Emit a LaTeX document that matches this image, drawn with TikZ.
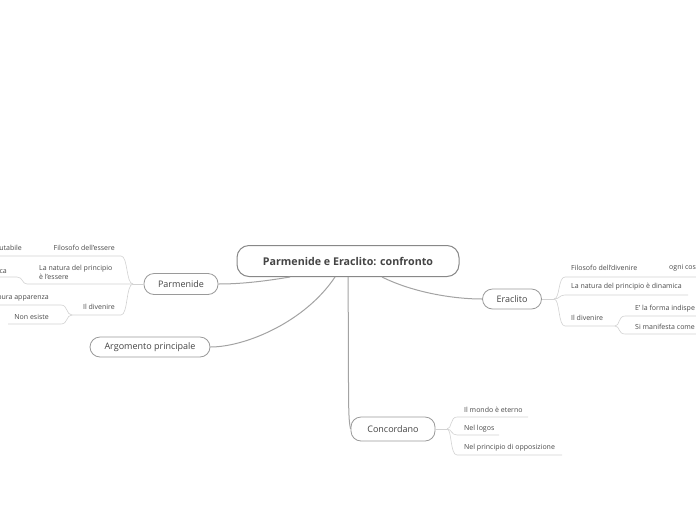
\documentclass[tikz,border=0pt]{standalone}
\usepackage{fontspec}
\setmainfont{Open Sans}
\definecolor{rootline}{HTML}{888888}
\definecolor{boxline}{HTML}{9A9A9A}
\definecolor{branchline}{HTML}{A3A3A3}
\definecolor{twigline}{HTML}{D2D2D2}
\definecolor{boxtext}{HTML}{444444}
\definecolor{leaftext}{HTML}{4A4A4A}
\begin{document}
\begin{tikzpicture}[x=1pt,y=-1pt,
  rootbox/.style={draw=rootline,line width=1pt,rounded corners=12pt,minimum width=222pt,minimum height=31pt,
    font=\fontsize{10.7}{12}\selectfont\bfseries,text=boxtext},
  topic/.style={draw=boxline,line width=0.8pt,rounded corners=10pt,minimum height=21pt,
    font=\fontsize{9}{10}\selectfont,text=boxtext},
  leaf/.style={font=\fontsize{7}{9}\selectfont,text=leaftext,inner sep=0pt},
  branch/.style={draw=branchline,line width=1pt},
  twig/.style={draw=twigline,line width=0.6pt}]
\useasboundingbox[fill=white] (0,0) rectangle (696,520);
% main topics
\node[rootbox] (root) at (348,261) {Parmenide e Eraclito: confronto};
\node[topic,minimum width=74pt] (parm) at (181,284) {Parmenide};
\node[topic,minimum width=120pt,minimum height=20pt] (arg) at (150,347) {Argomento principale};
\node[topic,minimum width=59pt,minimum height=20pt] (era) at (512,299) {Eraclito};
\node[topic,minimum width=84pt,minimum height=24pt] (conc) at (393,429) {Concordano};
\draw[branch] ([xshift=-58pt]root.south) .. controls +(-30,5) and +(20,0) .. (parm.east);
\draw[branch] ([xshift=-13pt]root.south) .. controls +(-30,45) and +(35,0) .. (arg.east);
\draw[branch] (root.south) .. controls +(1,120) and +(-3,-12) .. (conc.west);
\draw[branch] ([xshift=34pt]root.south) .. controls +(30,15) and +(-30,0) .. (era.west);
% Parmenide
\node[leaf,anchor=east] (fil) at (115,248) {Filosofo dell'essere};
\node[leaf,anchor=east] (imm) at (22,248) {utabile};
\node[leaf,anchor=west,align=left] (nat) at (39,272.5) {La natura del principio\\è l'essere};
\node[leaf,anchor=east] (sta) at (7,272) {ca};
\node[leaf,anchor=east] (div) at (115,307) {Il divenire};
\node[leaf,anchor=east] (app) at (49,298) {pura apparenza};
\node[leaf,anchor=east] (nes) at (49,317) {Non esiste};
\coordinate (pb) at (133,284);
\coordinate (filA) at (121,256); \coordinate (immB) at (0,256);
\coordinate (natA) at (27,284);
\coordinate (staA) at (17,277); \coordinate (staB) at (0,277);
\coordinate (divA) at (121,315); \coordinate (divB) at (72,315);
\coordinate (appA) at (61,305); \coordinate (appB) at (0,305);
\coordinate (nesA) at (61,324); \coordinate (nesB) at (8,324);
\draw[twig] (parm.west) -- (pb);
\draw[twig] (pb) .. controls (126,284) and (128,256) .. (filA) -- (immB);
\draw[twig] (pb) -- (natA) .. controls (22,284) and (23,277) .. (staA) -- (staB);
\draw[twig] (pb) .. controls (126,284) and (128,315) .. (divA) -- (divB);
\draw[twig] (divB) .. controls (66,315) and (68,305) .. (appA) -- (appB);
\draw[twig] (divB) .. controls (66,315) and (68,324) .. (nesA) -- (nesB);
% Eraclito
\node[leaf,anchor=west] (fd) at (571,268) {Filosofo dell'divenire};
\node[leaf,anchor=west] (og) at (669,268) {ogni cos};
\node[leaf,anchor=west] (nd) at (571,287) {La natura del principio è dinamica};
\node[leaf,anchor=west] (dv) at (571,318) {Il divenire};
\node[leaf,anchor=west] (fr) at (635,309) {E' la forma indispe};
\node[leaf,anchor=west] (ma) at (635,327) {Si manifesta come};
\coordinate (eb) at (554,299);
\coordinate (fdA) at (565,277); \coordinate (ogB) at (696,277);
\coordinate (ndA) at (565,295); \coordinate (ndB) at (688,295);
\coordinate (dvA) at (565,326); \coordinate (dvB) at (615,326);
\coordinate (frA) at (625,316); \coordinate (frB) at (696,316);
\coordinate (maA) at (625,334); \coordinate (maB) at (696,334);
\draw[twig] (era.east) -- (eb);
\draw[twig] (eb) .. controls (560,299) and (558,277) .. (fdA) -- (ogB);
\draw[twig] (eb) .. controls (560,299) and (559,295) .. (ndA) -- (ndB);
\draw[twig] (eb) .. controls (560,299) and (558,326) .. (dvA) -- (dvB);
\draw[twig] (dvB) .. controls (620,326) and (618,316) .. (frA) -- (frB);
\draw[twig] (dvB) .. controls (620,326) and (618,334) .. (maA) -- (maB);
% Concordano
\node[leaf,anchor=west] (mo) at (464,410) {Il mondo è eterno};
\node[leaf,anchor=west] (lo) at (464,429) {Nel logos};
\node[leaf,anchor=west] (op) at (464,448) {Nel principio di opposizione};
\coordinate (cb) at (447,429);
\coordinate (moA) at (457,417); \coordinate (moB) at (528,417);
\coordinate (loA) at (457,435); \coordinate (loB) at (499,435);
\coordinate (opA) at (457,455); \coordinate (opB) at (562,455);
\draw[twig] (conc.east) -- (cb);
\draw[twig] (cb) .. controls (452,429) and (450,417) .. (moA) -- (moB);
\draw[twig] (cb) .. controls (452,429) and (451,435) .. (loA) -- (loB);
\draw[twig] (cb) .. controls (452,429) and (450,455) .. (opA) -- (opB);
\end{tikzpicture}
\end{document}
